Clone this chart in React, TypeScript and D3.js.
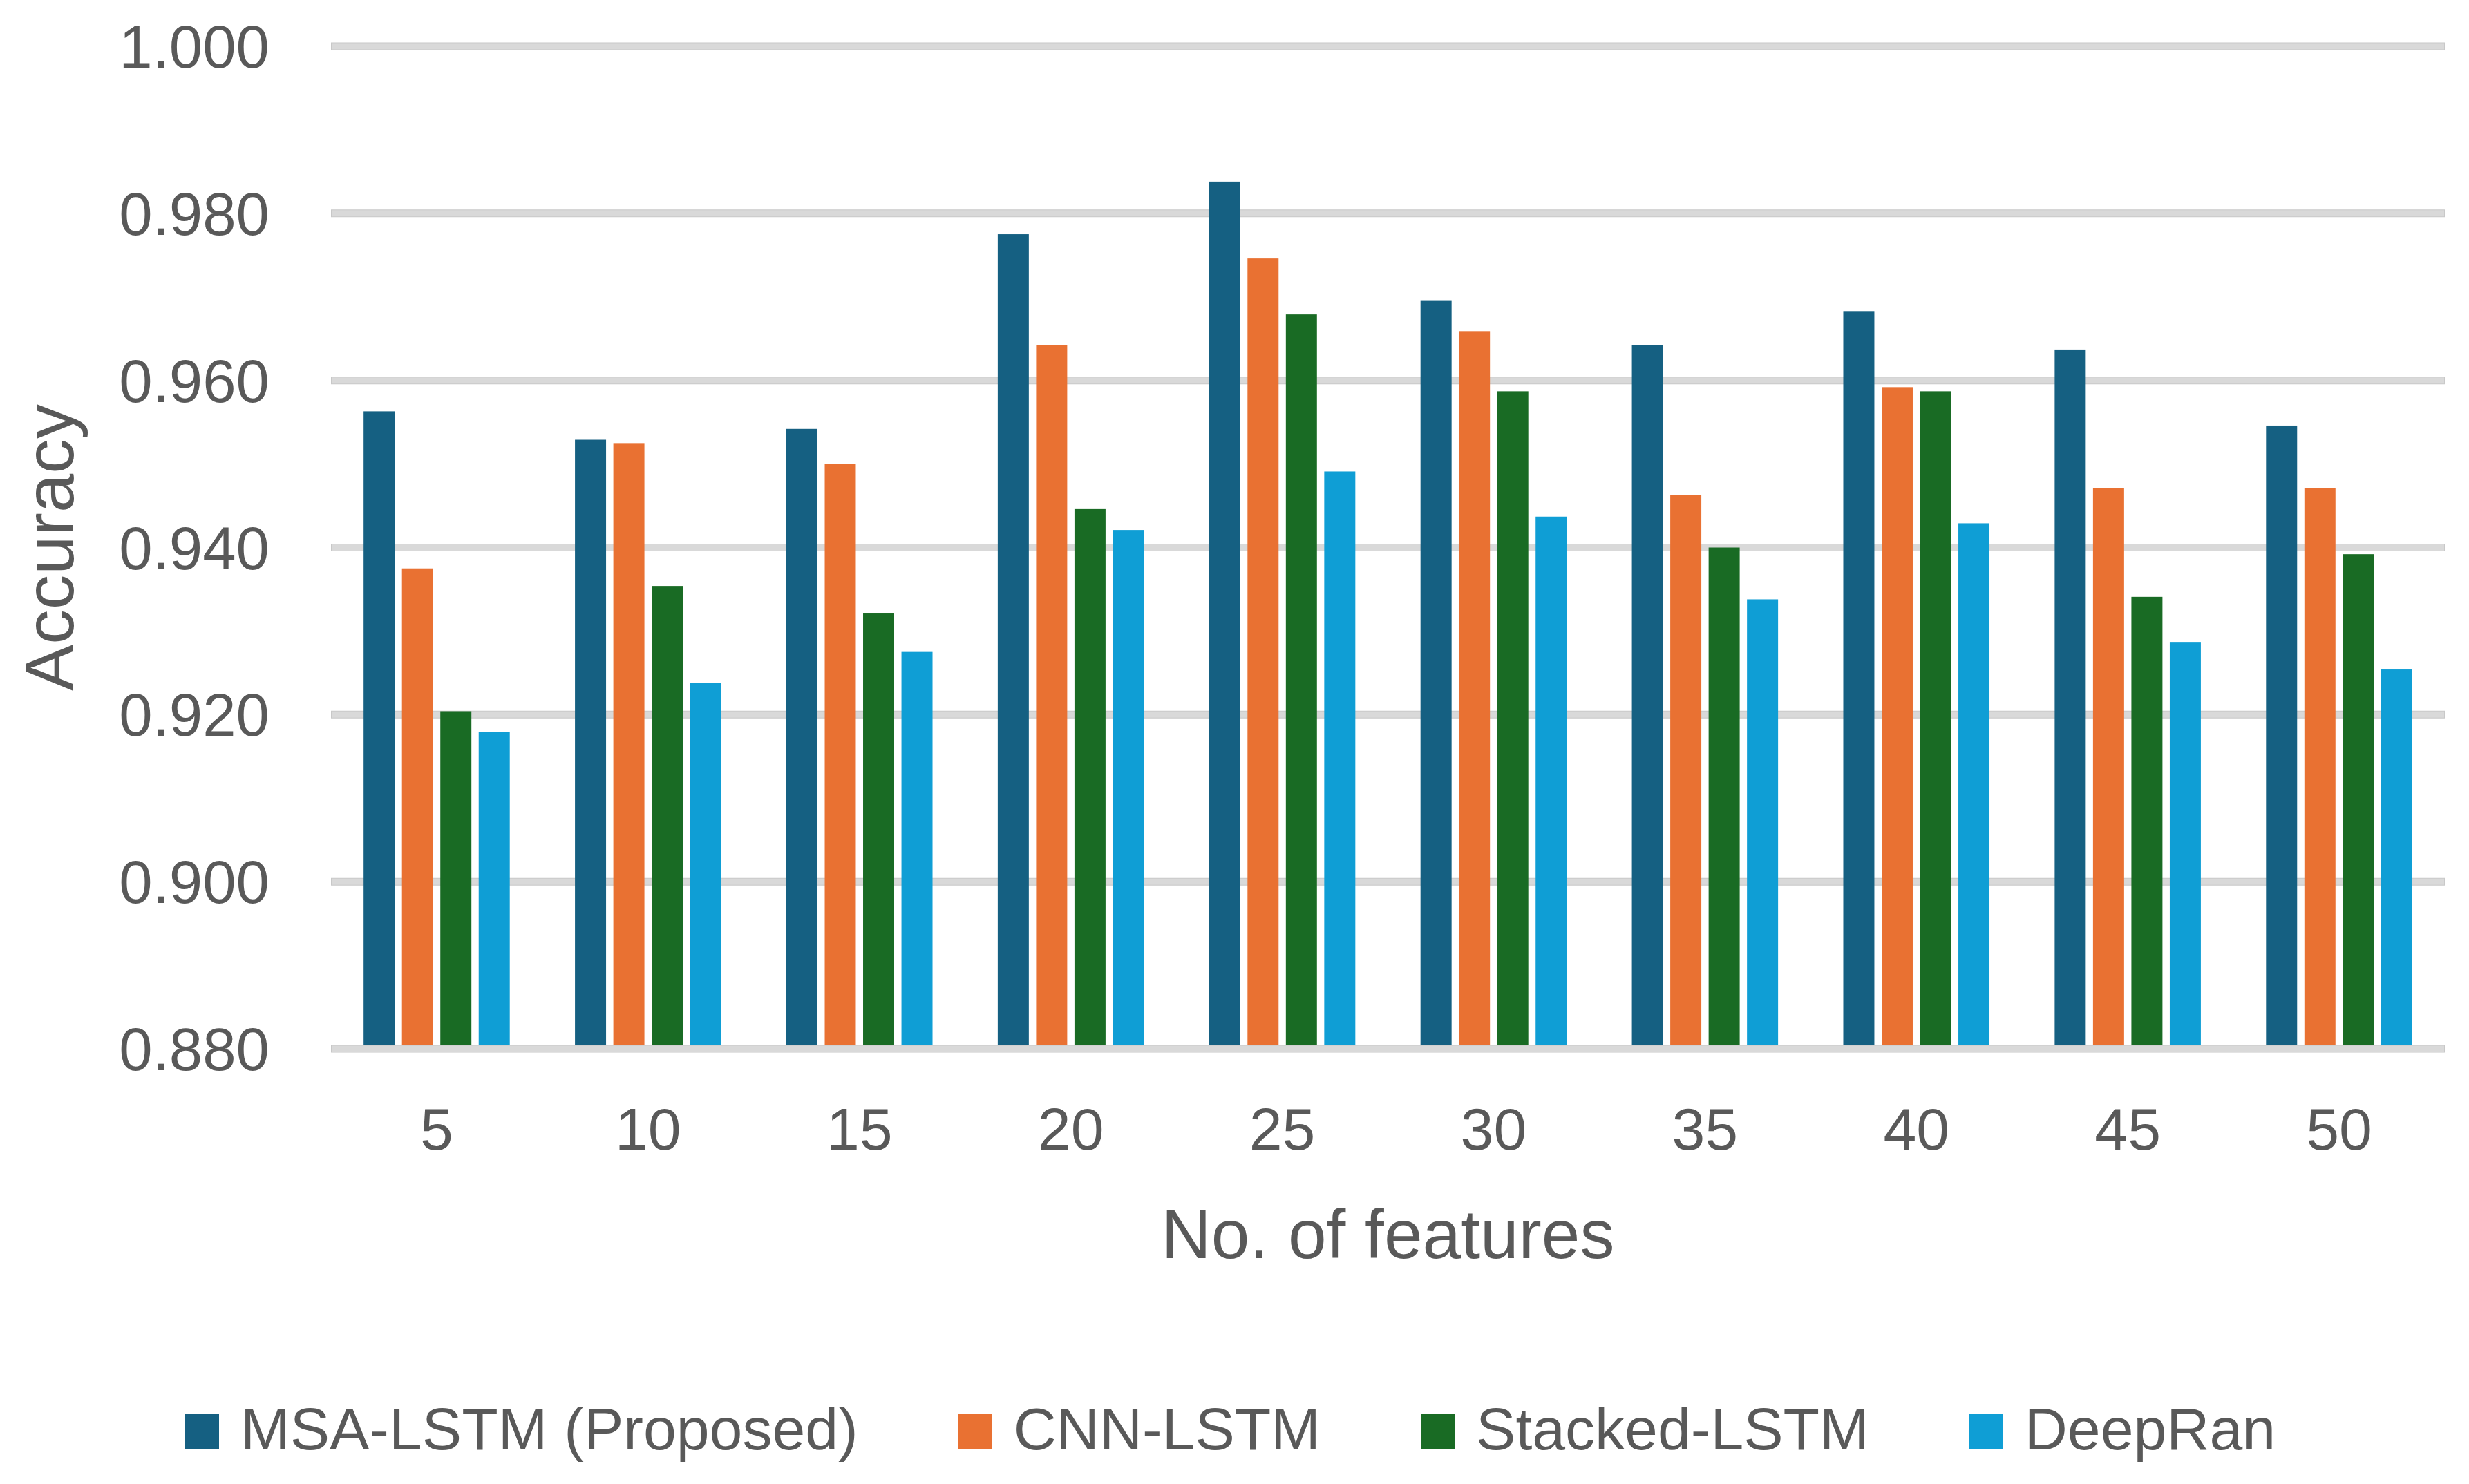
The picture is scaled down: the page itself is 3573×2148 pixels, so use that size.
import { useEffect, useRef } from "react";
import * as d3 from "d3";

const features = ["5", "10", "15", "20", "25", "30", "35", "40", "45", "50"];
const seriesNames = ["MSA-LSTM (Proposed)", "CNN-LSTM", "Stacked-LSTM", "DeepRan"];
const msaLstm = [0.9563, 0.9529, 0.9542, 0.9775, 0.9838, 0.9696, 0.9642, 0.9683, 0.9637, 0.9546];
const cnnLstm = [0.9375, 0.9525, 0.95, 0.9642, 0.9746, 0.9659, 0.9463, 0.9592, 0.9471, 0.9471];
const stackedLstm = [0.9204, 0.9354, 0.9321, 0.9446, 0.9679, 0.9587, 0.94, 0.9587, 0.9341, 0.9392];
const deepRan = [0.9179, 0.9238, 0.9275, 0.9421, 0.9491, 0.9437, 0.9338, 0.9429, 0.9287, 0.9254];
const yTicks = [0.88, 0.9, 0.92, 0.94, 0.96, 0.98, 1.0];
const colors = ["#156082", "#E97132", "#196B24", "#0F9ED5"];

const W = 3573;
const H = 2148;
const FONT = "'Liberation Sans', Arial, sans-serif";
const TEXT = "#595959";

export default function App() {
  const svgRef = useRef<SVGSVGElement>(null);

  useEffect(() => {
    if (!svgRef.current) return;
    document.body.style.margin = "0";
    const svg = d3.select(svgRef.current);
    svg.selectAll("*").remove();

    const margin = { top: 67, right: W - 3538, bottom: H - 1518, left: 479 };
    const allSeries = [msaLstm, cnnLstm, stackedLstm, deepRan];

    const x = d3.scaleBand()
      .domain(features)
      .range([margin.left, W - margin.right])
      .padding(0);

    const y = d3.scaleLinear()
      .domain([0.88, 1.0])
      .range([H - margin.bottom, margin.top]);

    // bars in each group take up ~72% of the category
    const groupW = x.bandwidth() * 0.726;
    const sub = d3.scaleBand()
      .domain(seriesNames)
      .range([-groupW / 2, groupW / 2])
      .paddingInner(0.19)
      .paddingOuter(0.095);

    // gridlines
    const grid = svg.append("g");
    grid.selectAll("line.edge")
      .data(yTicks)
      .join("line")
      .attr("class", "edge")
      .attr("x1", margin.left)
      .attr("x2", W - margin.right)
      .attr("y1", d => y(d))
      .attr("y2", d => y(d))
      .attr("stroke", "#c8c8c8")
      .attr("stroke-width", 11);
    grid.selectAll("line.fill")
      .data(yTicks)
      .join("line")
      .attr("class", "fill")
      .attr("x1", margin.left + 1)
      .attr("x2", W - margin.right - 1)
      .attr("y1", d => y(d))
      .attr("y2", d => y(d))
      .attr("stroke", "#d9d9d9")
      .attr("stroke-width", 9);

    // bars
    const rows = features.map((f, i) => ({
      f,
      vals: seriesNames.map((s, j) => ({ s, j, v: allSeries[j][i] })),
    }));

    svg.append("g")
      .selectAll("g")
      .data(rows)
      .join("g")
      .attr("transform", d => `translate(${x(d.f)! + x.bandwidth() / 2},0)`)
      .selectAll("rect")
      .data(d => d.vals)
      .join("rect")
      .attr("x", d => sub(d.s)!)
      .attr("width", sub.bandwidth())
      .attr("y", d => y(d.v))
      .attr("height", d => y(0.88) - 5 - y(d.v))
      .attr("fill", d => colors[d.j]);

    // y tick labels
    svg.append("g")
      .selectAll("text")
      .data(yTicks)
      .join("text")
      .attr("x", 390)
      .attr("y", d => y(d) + 31)
      .attr("text-anchor", "end")
      .attr("font-family", FONT)
      .attr("font-size", 87)
      .attr("fill", TEXT)
      .text(d => d3.format(".3f")(d));

    // x tick labels
    svg.append("g")
      .selectAll("text")
      .data(features)
      .join("text")
      .attr("x", d => x(d)! + x.bandwidth() / 2)
      .attr("y", 1664)
      .attr("text-anchor", "middle")
      .attr("font-family", FONT)
      .attr("font-size", 86)
      .attr("fill", TEXT)
      .text(d => d);

    // axis titles
    svg.append("text")
      .attr("x", (margin.left + W - margin.right) / 2)
      .attr("y", 1821)
      .attr("text-anchor", "middle")
      .attr("font-family", FONT)
      .attr("font-size", 100)
      .attr("fill", TEXT)
      .text("No. of features");

    svg.append("text")
      .attr("transform", `translate(106,${(y(0.88) + y(1.0)) / 2}) rotate(-90)`)
      .attr("text-anchor", "middle")
      .attr("font-family", FONT)
      .attr("font-size", 101)
      .attr("fill", TEXT)
      .text("Accuracy");

    // legend
    const legend = svg.append("g");
    let lx = 268;
    seriesNames.forEach((name, i) => {
      legend.append("rect")
        .attr("x", lx)
        .attr("y", 2047)
        .attr("width", 49)
        .attr("height", 50)
        .attr("fill", colors[i]);
      const t = legend.append("text")
        .attr("x", lx + 80)
        .attr("y", 2098)
        .attr("font-family", FONT)
        .attr("font-size", 86)
        .attr("fill", TEXT)
        .text(name);
      const tw = (t.node() as SVGTextElement).getComputedTextLength();
      lx += 80 + tw + 145;
    });
  }, []);

  return (
    <svg
      ref={svgRef}
      width={W}
      height={H}
      style={{ display: "block", background: "#ffffff" }}
    />
  );
}
